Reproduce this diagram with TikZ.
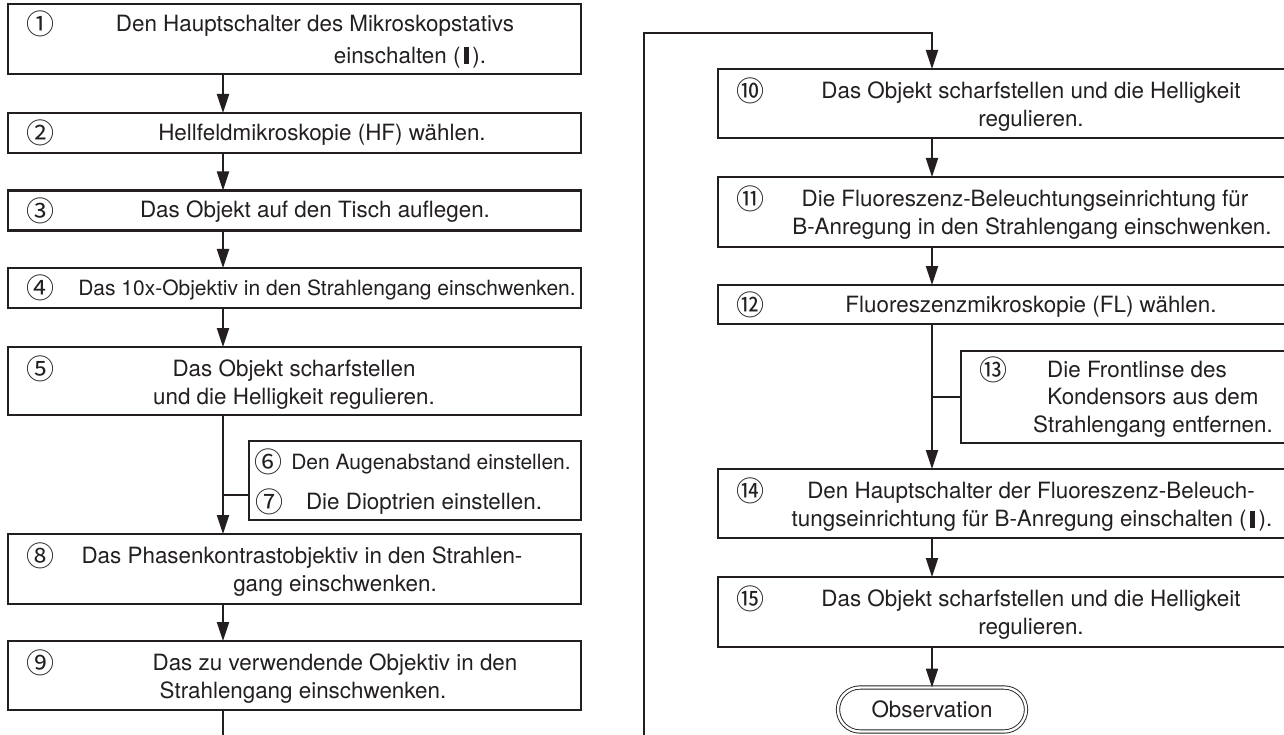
\documentclass[tikz,border=0pt]{standalone}
\usepackage{fontspec}
\setmainfont{TeX Gyre Heros}
\newfontfamily\circfont{Noto Sans CJK JP}
\usetikzlibrary{arrows.meta,shapes.misc,calc}
\definecolor{ink}{HTML}{231F20}
\newcommand{\onbar}{\rule[-1pt]{4.5pt}{17pt}}
\begin{document}
\begin{tikzpicture}[x=1pt,y=-1pt,
  every node/.style={inner sep=0pt,outer sep=0pt},
  box/.style={draw=ink,line width=2.6pt,rectangle},
  txt/.style={font=\fontsize{22.4}{27}\selectfont,text=ink,anchor=base},
  smalltxt/.style={font=\fontsize{21}{26}\selectfont,text=ink,anchor=base},
  num/.style={font=\circfont\fontsize{28}{32}\selectfont,text=ink,anchor=center},
  ln/.style={draw=ink,line width=2pt},
  arr/.style={draw=ink,line width=2pt,-{Triangle[length=19pt,width=12pt]}},
  obs/.style={rounded rectangle,draw=ink,line width=0.9pt,double=white,double distance=2.4pt,
    minimum width=188pt,minimum height=44pt,font=\fontsize{22.4}{27}\selectfont,text=ink}
]
\useasboundingbox (0,0) rectangle (1284,735);
\fill[white] (0,0) rectangle (1284,735);
\clip (0,0) rectangle (1284,735);

% connector columns
\coordinate (cL) at (223,0);
\coordinate (cR) at (932,0);

% ---------- left column boxes ----------
\node[box,minimum width=573pt,minimum height=70pt] (b1) at (294.5,39) {};
\node[box,minimum width=573pt,minimum height=40pt] (b2) at (294.5,133) {};
\node[box,minimum width=573pt,minimum height=40pt] (b3) at (294.5,210.5) {};
\node[box,minimum width=573pt,minimum height=40pt] (b4) at (294.5,288) {};
\node[box,minimum width=573pt,minimum height=68pt] (b5) at (294.5,381) {};
\node[box,minimum width=332pt,minimum height=79pt] (b67) at (415,480.5) {};
\node[box,minimum width=573pt,minimum height=70pt] (b8) at (294.5,569) {};
\node[box,minimum width=573pt,minimum height=69pt] (b9) at (294.5,675.5) {};

% ---------- right column boxes ----------
\node[box,minimum width=573pt,minimum height=69pt] (b10) at (1004.5,103.5) {};
\node[box,minimum width=573pt,minimum height=70pt] (b11) at (1004.5,212) {};
\node[box,minimum width=573pt,minimum height=39pt] (b12) at (1004.5,304.5) {};
\node[box,minimum width=330pt,minimum height=92pt] (b13) at (1126,397) {};
\node[box,minimum width=573pt,minimum height=69pt] (b14) at (1004.5,503.5) {};
\node[box,minimum width=573pt,minimum height=70pt] (b15) at (1004.5,612) {};
\node[obs] (obsv) at (932,709.5) {Observation};

% ---------- numbers ----------
\node[num] (n1) at (40,24) {①};
\node[num] (n2) at (40,133) {②};
\node[num] (n3) at (40,210.5) {③};
\node[num] (n4) at (40,288) {④};
\node[num] (n5) at (40,369) {⑤};
\node[num] (n6) at (268,462) {⑥};
\node[num] (n7) at (269,502) {⑦};
\node[num] (n8) at (40,556) {⑧};
\node[num] (n9) at (40,663) {⑨};
\node[num] (n10) at (750,91) {⑩};
\node[num] (n11) at (750,199) {⑪};
\node[num] (n12) at (750,304.5) {⑫};
\node[num] (n13) at (993,370) {⑬};
\node[num] (n14) at (750,491) {⑭};
\node[num] (n15) at (750,599) {⑮};

% ---------- texts ----------
\node[txt] (t1a) at (315,31.5) {Den Hauptschalter des Mikroskopstativs};
\node[txt] (t1b) at (410,63.5) {einschalten (\,\onbar\,).};
\node[txt] (t2) at (322,140.5) {Hellfeldmikroskopie (HF) wählen.};
\node[txt] (t3) at (315,218) {Das Objekt auf den Tisch auflegen.};
\node[smalltxt] (t4) at (327,295.5) {Das 10x-Objektiv in den Strahlengang einschwenken.};
\node[txt] (t5a) at (294,376.5) {Das Objekt scharfstellen};
\node[txt] (t5b) at (294,404.5) {und die Helligkeit regulieren.};
\node[smalltxt] (t6) at (431,469.5) {Den Augenabstand einstellen.};
\node[txt] (t7) at (424,509.5) {Die Dioptrien einstellen.};
\node[txt] (t8a) at (302,563.5) {Das Phasenkontrastobjektiv in den Strahlen-};
\node[txt] (t8b) at (335,591.5) {gang einschwenken.};
\node[txt] (t9a) at (335,670.5) {Das zu verwendende Objektiv in den};
\node[txt] (t9b) at (303,698.5) {Strahlengang einschwenken.};
\node[txt] (t10a) at (1031,98.5) {Das Objekt scharfstellen und die Helligkeit};
\node[txt] (t10b) at (1031,126.5) {regulieren.};
\node[txt] (t11a) at (1025,206.5) {Die Fluoreszenz-Beleuchtungseinrichtung für};
\node[txt] (t11b) at (1032,234.5) {B-Anregung in den Strahlengang einschwenken.};
\node[txt] (t12) at (1031,312) {Fluoreszenzmikroskopie (FL) wählen.};
\node[txt] (t13a) at (1137,377.5) {Die Frontlinse des};
\node[txt] (t13b) at (1153,404.5) {Kondensors aus dem};
\node[txt] (t13c) at (1153,432.5) {Strahlengang entfernen.};
\node[txt] (t14a) at (1031,498.5) {Den Hauptschalter der Fluoreszenz-Beleuch-};
\node[txt] (t14b) at (1032,526.5) {tungseinrichtung für B-Anregung einschalten (\,\onbar\,).};
\node[txt] (t15a) at (1031,606.5) {Das Objekt scharfstellen und die Helligkeit};
\node[txt] (t15b) at (1031,634.5) {regulieren.};

% ---------- connectors left ----------
\draw[arr] (b1.south -| cL) -- (b2.north -| cL);
\draw[arr] (b2.south -| cL) -- (b3.north -| cL);
\draw[arr] (b3.south -| cL) -- (b4.north -| cL);
\draw[arr] (b4.south -| cL) -- (b5.north -| cL);
\draw[arr] (b5.south -| cL) -- (b8.north -| cL);
\coordinate (j67) at (223,495);
\draw[ln] (j67) -- (j67 -| b67.west);
\draw[arr] (b8.south -| cL) -- (b9.north -| cL);
\coordinate (exitL) at (223,740);
\draw[ln] (b9.south -| cL) -- (exitL);

% ---------- loop to right column ----------
\coordinate (entR) at (644,740);
\coordinate (turnA) at (644,33);
\coordinate (turnB) at (932,33);
\draw[arr] (entR) -- (turnA) -- (turnB) -- (b10.north -| cR);

% ---------- connectors right ----------
\draw[arr] (b10.south -| cR) -- (b11.north -| cR);
\draw[arr] (b11.south -| cR) -- (b12.north -| cR);
\draw[arr] (b12.south -| cR) -- (b14.north -| cR);
\coordinate (j13) at (932,397);
\draw[ln] (j13) -- (b13.west);
\draw[arr] (b14.south -| cR) -- (b15.north -| cR);
\draw[arr] (b15.south -| cR) -- (obsv.north);
\end{tikzpicture}
\end{document}
